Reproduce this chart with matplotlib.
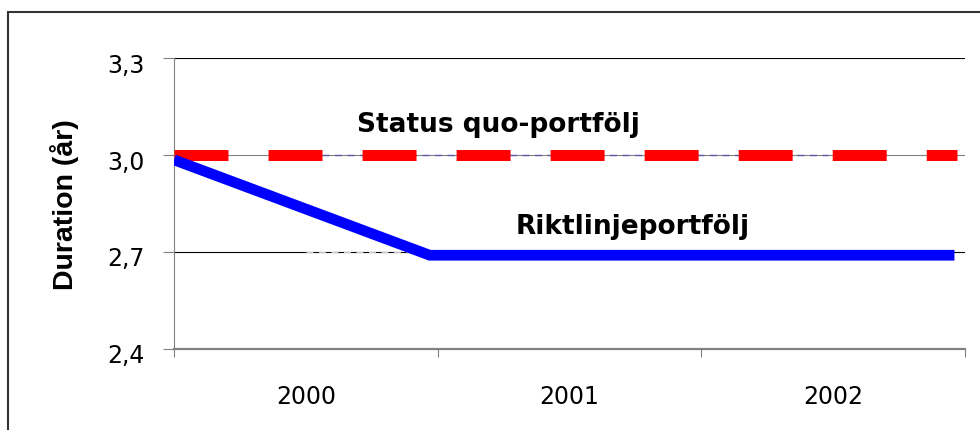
import matplotlib
matplotlib.use("Agg")
import matplotlib.pyplot as plt
import matplotlib.patches as mpatches
import matplotlib.transforms as mtransforms

# Data (x in years from start of 2000)
years = ["2000", "2001", "2002"]
year_centers = [0.5, 1.5, 2.5]
y_ticks = [2.4, 2.7, 3.0, 3.3]
y_tick_labels = ["2,4", "2,7", "3,0", "3,3"]

riktlinje_x = [0.0, 0.97, 2.96]
riktlinje_y = [2.985, 2.69, 2.69]

status_x = [0.0, 2.97]
status_y = [3.0, 3.0]

# faint hidden series visible between the dashes
hidden_a_x = [0.56, 2.48]
hidden_a_y = [3.0, 3.0]
hidden_b_x = [0.50, 0.95]
hidden_b_y = [2.7, 2.7]

labels = ["Status quo-portfölj", "Riktlinjeportfölj"]
label_x = [1.229, 1.741]
label_y = [3.074, 2.759]

W, H = 980, 431
fig = plt.figure(figsize=(W / 100, H / 100), dpi=100)
ax = fig.add_axes([174 / W, 1 - 350 / H, (965 - 174) / W, (350 - 59) / H])

# outer frame of the chart object
frame = mpatches.Rectangle((8 / W, -0.05), 1.1, 1 - 13 / H + 0.05,
                           transform=fig.transFigure, fill=False,
                           ec="#333333", lw=1.5)
fig.patches.append(frame)

# hidden thin series
ax.plot(hidden_a_x, hidden_a_y, color="#5a5aa8", lw=1.0, ls=(0, (5, 4)), zorder=2)
ax.plot(hidden_b_x, hidden_b_y, color="#c8c8c8", lw=1.0, ls=(0, (5, 4)), zorder=2)

# main series
ax.plot(status_x, status_y, color="#ff0000", lw=7.9,
        ls=(0, (4.92, 3.65)), dash_capstyle="butt", zorder=3)
ax.plot(riktlinje_x, riktlinje_y, color="#0000ff", lw=7.7,
        solid_capstyle="butt", solid_joinstyle="miter", zorder=4)

for txt, x, y in zip(labels, label_x, label_y):
    ax.text(x, y, txt, ha="center", va="baseline", fontsize=19,
            fontweight="bold", color="black", zorder=5)

ax.set_xlim(0, 3)
ax.set_ylim(2.4, 3.3)

# y axis
ax.set_yticks(y_ticks)
ax.set_yticklabels(y_tick_labels, fontsize=17)
ax.tick_params(axis="y", direction="out", length=7.9, width=0.8,
               color="#808080", pad=13)
ax.yaxis.grid(True, lw=0.8)
grid_colors = ["#808080", "black", "#808080", "black"]
for gl, tk, c in zip(ax.get_ygridlines(), ax.yaxis.get_major_ticks(), grid_colors):
    gl.set_color(c)
    tk.tick1line.set_color(c)
shift = mtransforms.ScaledTranslation(0, -4 / 100, fig.dpi_scale_trans)
for lab in ax.get_yticklabels():
    lab.set_transform(lab.get_transform() + shift)

# x axis: ticks on year boundaries, labels centred in each year
ax.set_xticks([0, 1, 2, 3])
ax.set_xticklabels([])
ax.set_xticks(year_centers, minor=True)
ax.set_xticklabels(years, minor=True, fontsize=17)
ax.tick_params(axis="x", which="major", direction="out", length=5.8,
               width=0.8, color="#808080")
ax.tick_params(axis="x", which="minor", length=0, pad=25)

ax.set_ylabel("Duration (år)", family="Liberation Sans", fontweight="bold",
              fontsize=20.5)
ax.yaxis.set_label_coords((79 - 174) / (965 - 174), 0.5)

for side in ["top", "right"]:
    ax.spines[side].set_visible(False)
ax.spines["left"].set_color("#808080")
ax.spines["left"].set_linewidth(0.8)
ax.spines["bottom"].set_color("#808080")
ax.spines["bottom"].set_linewidth(1.6)
ax.set_axisbelow(True)

fig.savefig("out.png", dpi=100)
